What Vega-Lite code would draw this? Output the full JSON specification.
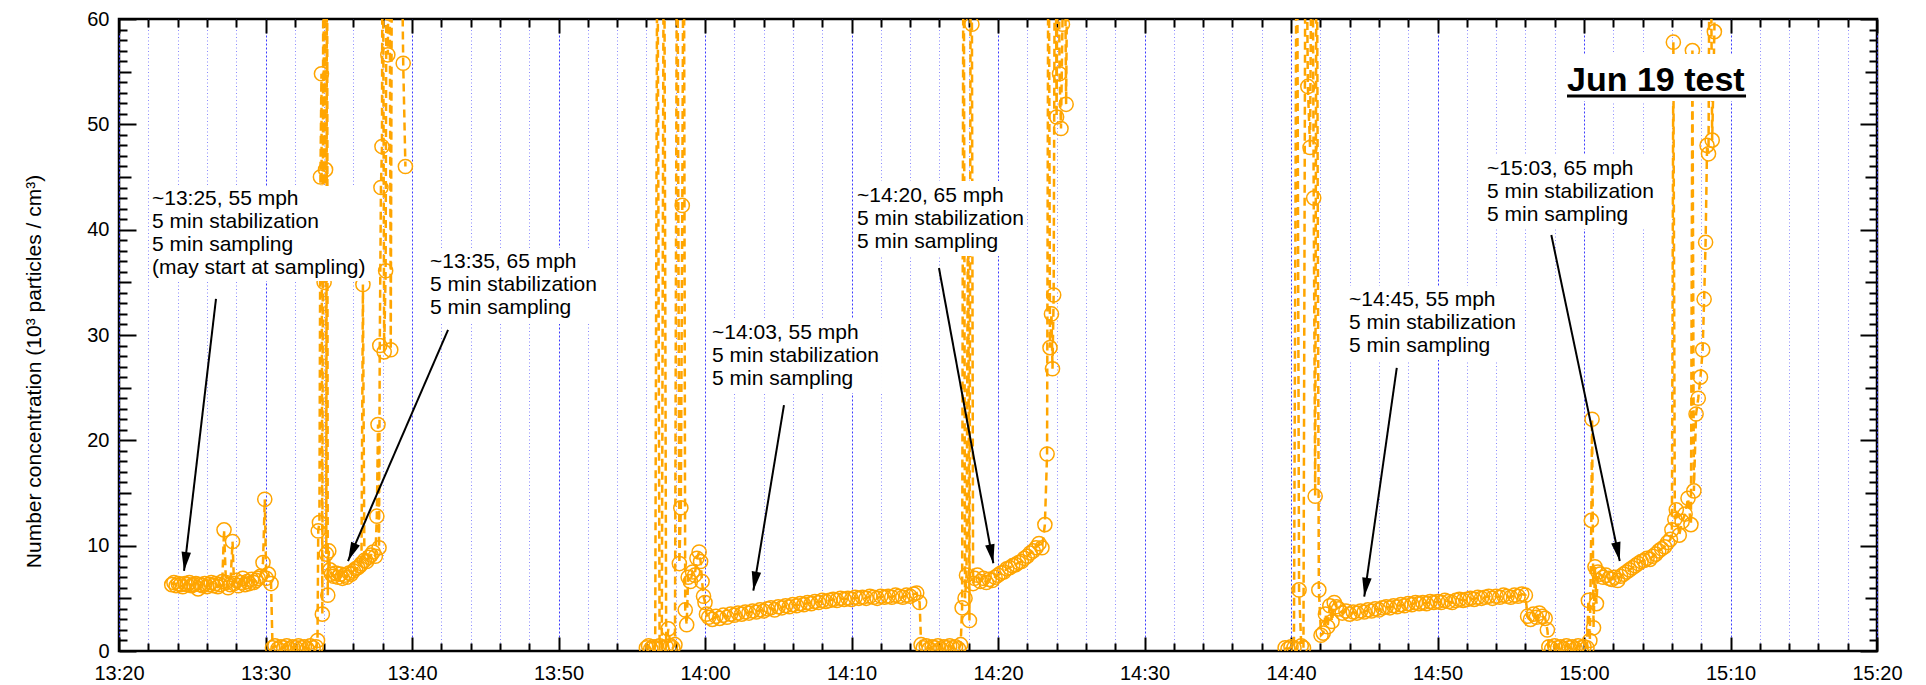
{
"$schema": "https://vega.github.io/schema/vega-lite/v6.json",
"width": 1758, "height": 632,
"autosize": {"type": "none"},
"padding": {"left": 119, "top": 19, "right": 49, "bottom": 34},
"background": "white",
"config": {
  "font": "Liberation Sans",
  "view": {"stroke": "black", "strokeWidth": 2.5},
  "axis": {"domain": false, "labelFont": "Liberation Sans", "labelFontSize": 20, "labelColor": "black", "tickColor": "black", "tickWidth": 2, "titleFont": "Liberation Sans", "titleFontWeight": "normal", "titleColor": "black", "labelOverlap": false, "labelFlush": false}
},
"datasets": {
"d": [
{"r":1,"t":23.6,"v":6.3},{"r":1,"t":23.75,"v":6.5},{"r":1,"t":23.9,"v":6.2},{"r":1,"t":24.05,"v":6.4},{"r":1,"t":24.2,"v":6.3},{"r":1,"t":24.35,"v":6.1},{"r":1,"t":24.5,"v":6.4},{"r":1,"t":24.65,"v":6.3},{"r":1,"t":24.8,"v":6.5},{"r":1,"t":24.95,"v":6.2},{"r":1,"t":25.1,"v":6.3},{"r":1,"t":25.25,"v":6.4},{"r":1,"t":25.4,"v":5.9},{"r":1,"t":25.55,"v":6.3},{"r":1,"t":25.7,"v":6.2},{"r":1,"t":25.85,"v":6.4},{"r":1,"t":26.0,"v":6.1},{"r":1,"t":26.15,"v":6.3},{"r":1,"t":26.3,"v":6.5},{"r":1,"t":26.45,"v":6.2},{"r":1,"t":26.6,"v":6.4},{"r":1,"t":26.75,"v":6.1},{"r":1,"t":26.9,"v":6.3},{"r":1,"t":27.05,"v":6.6},{"r":1,"t":27.17,"v":11.5},{"r":1,"t":27.3,"v":6.5},{"r":1,"t":27.45,"v":6.0},{"r":1,"t":27.6,"v":6.3},{"r":1,"t":27.75,"v":10.4},{"r":1,"t":27.85,"v":6.4},{"r":1,"t":28.0,"v":6.7},{"r":1,"t":28.15,"v":6.2},{"r":1,"t":28.3,"v":6.5},{"r":1,"t":28.45,"v":6.9},{"r":1,"t":28.6,"v":6.3},{"r":1,"t":28.75,"v":6.6},{"r":1,"t":28.9,"v":6.4},{"r":1,"t":29.05,"v":6.8},{"r":1,"t":29.2,"v":6.5},{"r":1,"t":29.35,"v":6.7},{"r":1,"t":29.5,"v":6.9},{"r":1,"t":29.65,"v":7.1},{"r":1,"t":29.83,"v":8.4},{"r":1,"t":29.95,"v":14.4},{"r":1,"t":30.05,"v":6.9},{"r":1,"t":30.2,"v":7.3},{"r":1,"t":30.38,"v":6.4},{"r":1,"t":30.48,"v":0.3},{"r":1,"t":30.65,"v":0.5},{"r":1,"t":30.85,"v":0.2},{"r":1,"t":31.05,"v":0.4},{"r":1,"t":31.25,"v":0.3},{"r":1,"t":31.45,"v":0.5},{"r":1,"t":31.65,"v":0.2},{"r":1,"t":31.85,"v":0.4},{"r":1,"t":32.05,"v":0.3},{"r":1,"t":32.25,"v":0.5},{"r":1,"t":32.45,"v":0.3},{"r":1,"t":32.65,"v":0.4},{"r":1,"t":32.85,"v":0.2},{"r":1,"t":33.05,"v":0.5},{"r":1,"t":33.25,"v":0.3},{"r":1,"t":33.45,"v":0.4},{"r":1,"t":33.55,"v":1.0},{"r":1,"t":33.6,"v":11.4},{"r":1,"t":33.68,"v":12.2},{"r":1,"t":33.75,"v":45},{"r":1,"t":33.82,"v":54.8},{"r":1,"t":33.88,"v":3.5},{"r":1,"t":33.95,"v":75},{"r":1,"t":34.0,"v":35},{"r":1,"t":34.06,"v":80},{"r":1,"t":34.1,"v":45.7},{"r":1,"t":34.15,"v":9.2},{"r":1,"t":34.2,"v":80},{"r":1,"t":34.25,"v":5.3},{"r":1,"t":34.32,"v":9.5},{"r":1,"t":34.4,"v":7.7},{"r":1,"t":34.5,"v":7.3},{"r":1,"t":34.65,"v":7.1},{"r":1,"t":34.8,"v":7.4},{"r":1,"t":34.95,"v":7.0},{"r":1,"t":35.1,"v":7.3},{"r":1,"t":35.25,"v":6.9},{"r":1,"t":35.4,"v":7.2},{"r":1,"t":35.55,"v":7.0},{"r":1,"t":35.7,"v":7.4},{"r":1,"t":35.85,"v":7.3},{"r":1,"t":36.0,"v":7.6},{"r":1,"t":36.15,"v":7.8},{"r":1,"t":36.3,"v":7.9},{"r":1,"t":36.45,"v":8.1},{"r":1,"t":36.55,"v":8.3},{"r":1,"t":36.65,"v":34.8},{"r":1,"t":36.75,"v":8.6},{"r":1,"t":36.9,"v":8.5},{"r":1,"t":37.05,"v":8.9},{"r":1,"t":37.2,"v":9.1},{"r":1,"t":37.35,"v":9.4},{"r":1,"t":37.5,"v":9.0},{"r":1,"t":37.6,"v":12.8},{"r":1,"t":37.68,"v":21.5},{"r":1,"t":37.75,"v":9.8},{"r":1,"t":37.8,"v":29.0},{"r":1,"t":37.88,"v":44},{"r":1,"t":37.95,"v":47.9},{"r":1,"t":38.0,"v":80},{"r":1,"t":38.1,"v":28.4},{"r":1,"t":38.2,"v":36.1},{"r":1,"t":38.28,"v":80},{"r":1,"t":38.35,"v":56.6},{"r":1,"t":38.45,"v":80},{"r":1,"t":38.55,"v":28.6},{"r":1,"t":38.65,"v":80},{"r":1,"t":38.8,"v":80},{"r":1,"t":39.0,"v":62},{"r":1,"t":39.2,"v":80},{"r":1,"t":39.4,"v":55.8},{"r":1,"t":39.55,"v":46},
{"r":2,"t":56.0,"v":0.3},{"r":2,"t":56.15,"v":0.5},{"r":2,"t":56.3,"v":0.2},{"r":2,"t":56.45,"v":0.4},{"r":2,"t":56.6,"v":0.3},{"r":2,"t":56.75,"v":75},{"r":2,"t":56.9,"v":0.5},{"r":2,"t":57.05,"v":0.3},{"r":2,"t":57.2,"v":80},{"r":2,"t":57.35,"v":0.4},{"r":2,"t":57.5,"v":2.1},{"r":2,"t":57.65,"v":0.5},{"r":2,"t":57.8,"v":0.3},{"r":2,"t":57.95,"v":0.6},{"r":2,"t":58.1,"v":80},{"r":2,"t":58.25,"v":8.3},{"r":2,"t":58.35,"v":13.6},{"r":2,"t":58.45,"v":42.3},{"r":2,"t":58.55,"v":80},{"r":2,"t":58.65,"v":3.9},{"r":2,"t":58.75,"v":2.5},{"r":2,"t":58.85,"v":7.0},{"r":2,"t":59.0,"v":6.6},{"r":2,"t":59.15,"v":7.5},{"r":2,"t":59.3,"v":7.2},{"r":2,"t":59.45,"v":8.8},{"r":2,"t":59.6,"v":9.4},{"r":2,"t":59.7,"v":8.5},{"r":2,"t":59.8,"v":6.6},{"r":2,"t":59.9,"v":5.2},{"r":2,"t":60.0,"v":4.6},{"r":2,"t":60.1,"v":3.5},
{"r":2,"t":60.25,"v":3.2},{"r":2,"t":60.5,"v":3.0},{"r":2,"t":60.75,"v":3.3},{"r":2,"t":61.0,"v":3.1},{"r":2,"t":61.25,"v":3.4},{"r":2,"t":61.5,"v":3.2},{"r":2,"t":61.75,"v":3.5},{"r":2,"t":62.0,"v":3.4},{"r":2,"t":62.25,"v":3.6},{"r":2,"t":62.5,"v":3.5},{"r":2,"t":62.75,"v":3.7},{"r":2,"t":63.0,"v":3.6},{"r":2,"t":63.25,"v":3.8},{"r":2,"t":63.5,"v":3.7},{"r":2,"t":63.75,"v":3.9},{"r":2,"t":64.0,"v":3.8},{"r":2,"t":64.25,"v":4.0},{"r":2,"t":64.5,"v":4.1},{"r":2,"t":64.75,"v":3.9},{"r":2,"t":65.0,"v":4.2},{"r":2,"t":65.25,"v":4.1},{"r":2,"t":65.5,"v":4.3},{"r":2,"t":65.75,"v":4.2},{"r":2,"t":66.0,"v":4.4},{"r":2,"t":66.25,"v":4.3},{"r":2,"t":66.5,"v":4.5},{"r":2,"t":66.75,"v":4.4},{"r":2,"t":67.0,"v":4.6},{"r":2,"t":67.25,"v":4.5},{"r":2,"t":67.5,"v":4.7},{"r":2,"t":67.75,"v":4.6},{"r":2,"t":68.0,"v":4.8},{"r":2,"t":68.25,"v":4.7},{"r":2,"t":68.5,"v":4.8},{"r":2,"t":68.75,"v":4.9},{"r":2,"t":69.0,"v":4.8},{"r":2,"t":69.25,"v":5.0},{"r":2,"t":69.5,"v":4.9},{"r":2,"t":69.75,"v":5.0},{"r":2,"t":70.0,"v":4.9},{"r":2,"t":70.25,"v":5.1},{"r":2,"t":70.5,"v":5.0},{"r":2,"t":70.75,"v":5.1},{"r":2,"t":71.0,"v":5.0},{"r":2,"t":71.25,"v":5.2},{"r":2,"t":71.5,"v":5.1},{"r":2,"t":71.75,"v":5.0},{"r":2,"t":72.0,"v":5.2},{"r":2,"t":72.25,"v":5.1},{"r":2,"t":72.5,"v":5.2},{"r":2,"t":72.75,"v":5.1},{"r":2,"t":73.0,"v":5.3},{"r":2,"t":73.25,"v":5.2},{"r":2,"t":73.5,"v":5.1},{"r":2,"t":73.75,"v":5.3},{"r":2,"t":74.0,"v":5.2},{"r":2,"t":74.25,"v":5.4},{"r":2,"t":74.45,"v":5.5},{"r":2,"t":74.65,"v":4.6},{"r":2,"t":74.75,"v":0.6},
{"r":2,"t":74.9,"v":0.3},{"r":2,"t":75.1,"v":0.5},{"r":2,"t":75.3,"v":0.2},{"r":2,"t":75.5,"v":0.4},{"r":2,"t":75.7,"v":0.3},{"r":2,"t":75.9,"v":0.5},{"r":2,"t":76.1,"v":0.2},{"r":2,"t":76.3,"v":0.4},{"r":2,"t":76.5,"v":0.3},{"r":2,"t":76.7,"v":0.5},{"r":2,"t":76.9,"v":0.3},{"r":2,"t":77.1,"v":0.4},{"r":2,"t":77.3,"v":0.2},
{"r":2,"t":77.45,"v":0.6},{"r":2,"t":77.55,"v":4.1},{"r":2,"t":77.65,"v":80},{"r":2,"t":77.75,"v":5.0},{"r":2,"t":77.85,"v":7.2},{"r":2,"t":77.95,"v":43.8},{"r":2,"t":78.05,"v":2.9},{"r":2,"t":78.15,"v":80},{"r":2,"t":78.22,"v":59.5},{"r":2,"t":78.3,"v":6.4},
{"r":2,"t":78.4,"v":6.9},{"r":2,"t":78.6,"v":7.2},{"r":2,"t":78.8,"v":6.6},{"r":2,"t":79.0,"v":6.9},{"r":2,"t":79.2,"v":6.5},{"r":2,"t":79.4,"v":6.8},{"r":2,"t":79.6,"v":6.7},{"r":2,"t":79.8,"v":7.0},{"r":2,"t":80.0,"v":7.2},{"r":2,"t":80.2,"v":7.4},{"r":2,"t":80.4,"v":7.5},{"r":2,"t":80.6,"v":7.8},{"r":2,"t":80.8,"v":7.9},{"r":2,"t":81.0,"v":8.1},{"r":2,"t":81.2,"v":8.2},{"r":2,"t":81.4,"v":8.4},{"r":2,"t":81.6,"v":8.5},{"r":2,"t":81.8,"v":8.8},{"r":2,"t":82.0,"v":9.0},{"r":2,"t":82.2,"v":9.3},{"r":2,"t":82.4,"v":9.5},{"r":2,"t":82.6,"v":9.8},{"r":2,"t":82.8,"v":10.2},{"r":2,"t":83.0,"v":9.8},{"r":2,"t":83.2,"v":12.0},{"r":2,"t":83.35,"v":18.7},{"r":2,"t":83.45,"v":80},{"r":2,"t":83.55,"v":28.8},{"r":2,"t":83.65,"v":32.0},{"r":2,"t":83.72,"v":26.8},{"r":2,"t":83.8,"v":33.8},{"r":2,"t":83.9,"v":80},{"r":2,"t":84.0,"v":50.7},{"r":2,"t":84.1,"v":80},{"r":2,"t":84.2,"v":54.8},{"r":2,"t":84.3,"v":49.6},{"r":2,"t":84.4,"v":59.5},{"r":2,"t":84.5,"v":80},{"r":2,"t":84.65,"v":51.9},{"r":2,"t":84.8,"v":80},{"r":2,"t":85.0,"v":80},{"r":2,"t":85.2,"v":70},{"r":2,"t":85.4,"v":80},
{"r":3,"t":99.6,"v":0.3},{"r":3,"t":99.8,"v":0.2},{"r":3,"t":100.0,"v":0.4},{"r":3,"t":100.2,"v":0.3},{"r":3,"t":100.4,"v":80},{"r":3,"t":100.55,"v":5.8},{"r":3,"t":100.7,"v":0.5},{"r":3,"t":100.85,"v":0.3},{"r":3,"t":101.0,"v":80},{"r":3,"t":101.15,"v":53.6},{"r":3,"t":101.3,"v":47.8},{"r":3,"t":101.45,"v":80},{"r":3,"t":101.55,"v":43.0},{"r":3,"t":101.65,"v":14.7},{"r":3,"t":101.75,"v":80},{"r":3,"t":101.9,"v":5.8},{"r":3,"t":102.05,"v":1.5},{"r":3,"t":102.2,"v":1.7},{"r":3,"t":102.35,"v":3.5},{"r":3,"t":102.5,"v":2.3},{"r":3,"t":102.65,"v":4.3},{"r":3,"t":102.8,"v":2.8},{"r":3,"t":102.95,"v":4.6},{"r":3,"t":103.1,"v":4.2},
{"r":3,"t":103.25,"v":4.0},{"r":3,"t":103.5,"v":3.6},{"r":3,"t":103.75,"v":3.8},{"r":3,"t":104.0,"v":3.5},{"r":3,"t":104.25,"v":3.7},{"r":3,"t":104.5,"v":3.6},{"r":3,"t":104.75,"v":3.8},{"r":3,"t":105.0,"v":3.7},{"r":3,"t":105.25,"v":3.9},{"r":3,"t":105.5,"v":3.8},{"r":3,"t":105.75,"v":4.0},{"r":3,"t":106.0,"v":3.9},{"r":3,"t":106.25,"v":4.1},{"r":3,"t":106.5,"v":4.2},{"r":3,"t":106.75,"v":4.1},{"r":3,"t":107.0,"v":4.3},{"r":3,"t":107.25,"v":4.2},{"r":3,"t":107.5,"v":4.4},{"r":3,"t":107.75,"v":4.3},{"r":3,"t":108.0,"v":4.5},{"r":3,"t":108.25,"v":4.4},{"r":3,"t":108.5,"v":4.6},{"r":3,"t":108.75,"v":4.5},{"r":3,"t":109.0,"v":4.6},{"r":3,"t":109.25,"v":4.5},{"r":3,"t":109.5,"v":4.7},{"r":3,"t":109.75,"v":4.6},{"r":3,"t":110.0,"v":4.7},{"r":3,"t":110.25,"v":4.6},{"r":3,"t":110.5,"v":4.8},{"r":3,"t":110.75,"v":4.7},{"r":3,"t":111.0,"v":4.6},{"r":3,"t":111.25,"v":4.8},{"r":3,"t":111.5,"v":4.9},{"r":3,"t":111.75,"v":4.8},{"r":3,"t":112.0,"v":4.9},{"r":3,"t":112.25,"v":5.0},{"r":3,"t":112.5,"v":4.9},{"r":3,"t":112.75,"v":5.1},{"r":3,"t":113.0,"v":5.0},{"r":3,"t":113.25,"v":5.1},{"r":3,"t":113.5,"v":5.2},{"r":3,"t":113.75,"v":5.0},{"r":3,"t":114.0,"v":5.2},{"r":3,"t":114.25,"v":5.1},{"r":3,"t":114.5,"v":5.3},{"r":3,"t":114.75,"v":5.2},{"r":3,"t":115.0,"v":5.1},{"r":3,"t":115.25,"v":5.3},{"r":3,"t":115.5,"v":5.2},{"r":3,"t":115.75,"v":5.4},{"r":3,"t":116.0,"v":5.3},
{"r":3,"t":116.15,"v":3.3},{"r":3,"t":116.35,"v":3.0},{"r":3,"t":116.55,"v":3.5},{"r":3,"t":116.75,"v":3.2},{"r":3,"t":116.95,"v":3.6},{"r":3,"t":117.15,"v":3.3},{"r":3,"t":117.35,"v":3.1},{"r":3,"t":117.5,"v":2.0},{"r":3,"t":117.6,"v":0.4},{"r":3,"t":117.8,"v":0.2},{"r":3,"t":118.0,"v":0.5},{"r":3,"t":118.2,"v":0.3},{"r":3,"t":118.4,"v":0.4},{"r":3,"t":118.6,"v":0.2},{"r":3,"t":118.8,"v":0.5},{"r":3,"t":119.0,"v":0.3},{"r":3,"t":119.2,"v":0.4},{"r":3,"t":119.4,"v":0.2},{"r":3,"t":119.6,"v":0.5},{"r":3,"t":119.8,"v":0.3},{"r":3,"t":120.0,"v":0.4},{"r":3,"t":120.2,"v":0.3},
{"r":3,"t":120.3,"v":4.8},{"r":3,"t":120.4,"v":1.0},{"r":3,"t":120.5,"v":12.4},{"r":3,"t":120.55,"v":22.0},{"r":3,"t":120.65,"v":2.2},{"r":3,"t":120.75,"v":8.0},{"r":3,"t":120.85,"v":4.5},{"r":3,"t":120.95,"v":7.5},
{"r":3,"t":121.1,"v":7.3},{"r":3,"t":121.3,"v":7.0},{"r":3,"t":121.5,"v":7.2},{"r":3,"t":121.7,"v":6.9},{"r":3,"t":121.9,"v":6.8},{"r":3,"t":122.1,"v":7.0},{"r":3,"t":122.3,"v":6.7},{"r":3,"t":122.5,"v":7.1},{"r":3,"t":122.7,"v":7.3},{"r":3,"t":122.9,"v":7.5},{"r":3,"t":123.1,"v":7.7},{"r":3,"t":123.3,"v":7.9},{"r":3,"t":123.5,"v":8.1},{"r":3,"t":123.7,"v":8.3},{"r":3,"t":123.9,"v":8.5},{"r":3,"t":124.1,"v":8.6},{"r":3,"t":124.3,"v":8.8},{"r":3,"t":124.5,"v":8.7},{"r":3,"t":124.7,"v":9.0},{"r":3,"t":124.9,"v":9.2},{"r":3,"t":125.1,"v":9.5},{"r":3,"t":125.3,"v":9.7},{"r":3,"t":125.5,"v":9.9},{"r":3,"t":125.7,"v":10.3},{"r":3,"t":125.9,"v":10.6},{"r":3,"t":126.0,"v":11.5},{"r":3,"t":126.1,"v":57.8},{"r":3,"t":126.2,"v":12.5},{"r":3,"t":126.3,"v":13.4},{"r":3,"t":126.5,"v":11.0},{"r":3,"t":126.7,"v":12.3},{"r":3,"t":126.9,"v":13.0},{"r":3,"t":127.1,"v":14.5},{"r":3,"t":127.3,"v":12.0},{"r":3,"t":127.4,"v":57.0},{"r":3,"t":127.5,"v":15.2},{"r":3,"t":127.65,"v":22.5},{"r":3,"t":127.8,"v":24.0},{"r":3,"t":127.95,"v":26.0},{"r":3,"t":128.1,"v":28.6},{"r":3,"t":128.2,"v":33.4},{"r":3,"t":128.3,"v":38.8},{"r":3,"t":128.4,"v":48.0},{"r":3,"t":128.5,"v":47.2},{"r":3,"t":128.6,"v":80},{"r":3,"t":128.75,"v":48.5},{"r":3,"t":128.9,"v":58.8},{"r":3,"t":129.0,"v":80}
],
"box": [
{"x1":22.05,"x2":37.27,"y1":44.15,"y2":35.13},
{"x1":41.02,"x2":52.83,"y1":38.26,"y2":31.04},
{"x1":60.27,"x2":72.08,"y1":31.52,"y2":24.49},
{"x1":70.17,"x2":81.98,"y1":44.62,"y2":37.5},
{"x1":103.75,"x2":115.56,"y1":34.65,"y2":27.63},
{"x1":113.17,"x2":124.92,"y1":47.09,"y2":40.06},
{"x1":118.5,"x2":131.47,"y1":56.68,"y2":52.22}
],
"ann": [
{"x":22.25,"y":43.92,"txt":"~13:25, 55 mph\n5 min stabilization\n5 min sampling\n(may start at sampling)"},
{"x":41.23,"y":37.94,"txt":"~13:35, 65 mph\n5 min stabilization\n5 min sampling"},
{"x":60.48,"y":31.23,"txt":"~14:03, 55 mph\n5 min stabilization\n5 min sampling"},
{"x":70.38,"y":44.28,"txt":"~14:20, 65 mph\n5 min stabilization\n5 min sampling"},
{"x":103.96,"y":34.37,"txt":"~14:45, 55 mph\n5 min stabilization\n5 min sampling"},
{"x":113.38,"y":46.85,"txt":"~15:03, 65 mph\n5 min stabilization\n5 min sampling"}
],
"ttl": [{"x":118.84,"y":53.19,"txt":"Jun 19 test","x2":131.06,"yu":52.69}],
"arr": [
{"x1":26.62,"y1":33.42,"x2":24.44,"y2":7.6,"ang":186.7},
{"x1":42.46,"y1":30.48,"x2":35.63,"y2":8.54,"ang":203.4},
{"x1":65.39,"y1":23.35,"x2":63.3,"y2":5.73,"ang":189.4},
{"x1":75.97,"y1":36.36,"x2":79.68,"y2":8.33,"ang":169.5},
{"x1":107.22,"y1":26.87,"x2":105.0,"y2":5.16,"ang":188.1},
{"x1":117.77,"y1":39.49,"x2":122.44,"y2":8.54,"ang":168.1}
]
},
"layer": [
{
 "data": {"name": "d"},
 "mark": {"type": "line", "color": "orange", "strokeWidth": 2.5, "strokeDash": [8, 5], "clip": true},
 "encoding": {
  "x": {"field": "t", "type": "quantitative", "scale": {"domain": [20, 140], "nice": false, "zero": false},
   "axis": {"orient": "bottom", "title": null,
    "values": [20,22,24,26,28,30,32,34,36,38,40,42,44,46,48,50,52,54,56,58,60,62,64,66,68,70,72,74,76,78,80,82,84,86,88,90,92,94,96,98,100,102,104,106,108,110,112,114,116,118,120,122,124,126,128,130,132,134,136,138,140],
    "grid": true,
    "gridColor": {"condition": {"test": "datum.value % 10 === 0", "value": "#3c3cff"}, "value": "#8a8aff"},
    "gridDash": {"condition": {"test": "datum.value % 10 === 0", "value": [2, 2]}, "value": [1, 2.5]},
    "gridWidth": 1,
    "tickSize": {"condition": {"test": "datum.value % 10 === 0", "value": -14}, "value": -8},
    "labelPadding": 26,
    "labelExpr": "datum.value % 10 === 0 ? timeFormat(datetime(2019,5,19,13,datum.value,0),'%H:%M') : ''"}},
  "y": {"field": "v", "type": "quantitative", "scale": {"domain": [0, 60], "nice": false},
   "axis": {"orient": "left", "title": "Number concentration (10³ particles / cm³)", "titleFontSize": 21, "titlePadding": 42, "titleY": 352,
    "values": [0,1,2,3,4,5,6,7,8,9,10,11,12,13,14,15,16,17,18,19,20,21,22,23,24,25,26,27,28,29,30,31,32,33,34,35,36,37,38,39,40,41,42,43,44,45,46,47,48,49,50,51,52,53,54,55,56,57,58,59,60],
    "grid": false,
    "tickSize": {"condition": [{"test": "datum.value % 10 === 0", "value": -17}, {"test": "datum.value % 5 === 0", "value": -12}], "value": -8},
    "labelPadding": 27,
    "labelExpr": "datum.value % 10 === 0 ? datum.label : ''"}},
  "detail": {"field": "r", "type": "nominal"}
 }
},
{
 "data": {"name": "d"},
 "mark": {"type": "point", "shape": "circle", "color": "orange", "filled": false, "size": 200, "strokeWidth": 1.5, "opacity": 1, "clip": true},
 "encoding": {
  "x": {"field": "t", "type": "quantitative",
   "axis": {"orient": "top", "title": null, "labels": false, "grid": false,
    "values": [20,22,24,26,28,30,32,34,36,38,40,42,44,46,48,50,52,54,56,58,60,62,64,66,68,70,72,74,76,78,80,82,84,86,88,90,92,94,96,98,100,102,104,106,108,110,112,114,116,118,120,122,124,126,128,130,132,134,136,138,140],
    "tickSize": {"condition": {"test": "datum.value % 10 === 0", "value": -14}, "value": -8}}},
  "y": {"field": "v", "type": "quantitative",
   "axis": {"orient": "right", "title": null, "labels": false, "grid": false,
    "values": [0,1,2,3,4,5,6,7,8,9,10,11,12,13,14,15,16,17,18,19,20,21,22,23,24,25,26,27,28,29,30,31,32,33,34,35,36,37,38,39,40,41,42,43,44,45,46,47,48,49,50,51,52,53,54,55,56,57,58,59,60],
    "tickSize": {"condition": [{"test": "datum.value % 10 === 0", "value": -17}, {"test": "datum.value % 5 === 0", "value": -12}], "value": -8}}}
 }
},
{
 "data": {"name": "box"},
 "mark": {"type": "rect", "color": "white", "opacity": 1},
 "encoding": {
  "x": {"field": "x1", "type": "quantitative", "axis": null},
  "x2": {"field": "x2"},
  "y": {"field": "y1", "type": "quantitative", "axis": null},
  "y2": {"field": "y2"}
 }
},
{
 "data": {"name": "ann"},
 "mark": {"type": "text", "align": "left", "baseline": "top", "fontSize": 21, "lineHeight": 23, "lineBreak": "\n", "color": "black", "font": "Liberation Sans"},
 "encoding": {
  "x": {"field": "x", "type": "quantitative", "axis": null},
  "y": {"field": "y", "type": "quantitative", "axis": null},
  "text": {"field": "txt", "type": "nominal"}
 }
},
{
 "data": {"name": "ttl"},
 "mark": {"type": "text", "align": "left", "baseline": "alphabetic", "fontSize": 34, "fontWeight": "bold", "color": "black", "font": "Liberation Sans"},
 "encoding": {
  "x": {"field": "x", "type": "quantitative", "axis": null},
  "y": {"field": "y", "type": "quantitative", "axis": null},
  "text": {"field": "txt", "type": "nominal"}
 }
},
{
 "data": {"name": "ttl"},
 "mark": {"type": "rule", "color": "black", "strokeWidth": 3},
 "encoding": {
  "x": {"field": "x", "type": "quantitative", "axis": null},
  "x2": {"field": "x2"},
  "y": {"field": "yu", "type": "quantitative", "axis": null}
 }
},
{
 "data": {"name": "arr"},
 "mark": {"type": "rule", "color": "black", "strokeWidth": 2},
 "encoding": {
  "x": {"field": "x1", "type": "quantitative", "axis": null},
  "y": {"field": "y1", "type": "quantitative", "axis": null},
  "x2": {"field": "x2"},
  "y2": {"field": "y2"}
 }
},
{
 "data": {"name": "arr"},
 "mark": {"type": "point", "shape": "M0,0L-0.5,2L0.5,2Z", "filled": true, "color": "black", "size": 361, "opacity": 1, "strokeWidth": 0},
 "encoding": {
  "x": {"field": "x2", "type": "quantitative", "axis": null},
  "y": {"field": "y2", "type": "quantitative", "axis": null},
  "angle": {"field": "ang", "type": "quantitative", "scale": null}
 }
}
],
"resolve": {"axis": {"x": "independent", "y": "independent"}}
}
